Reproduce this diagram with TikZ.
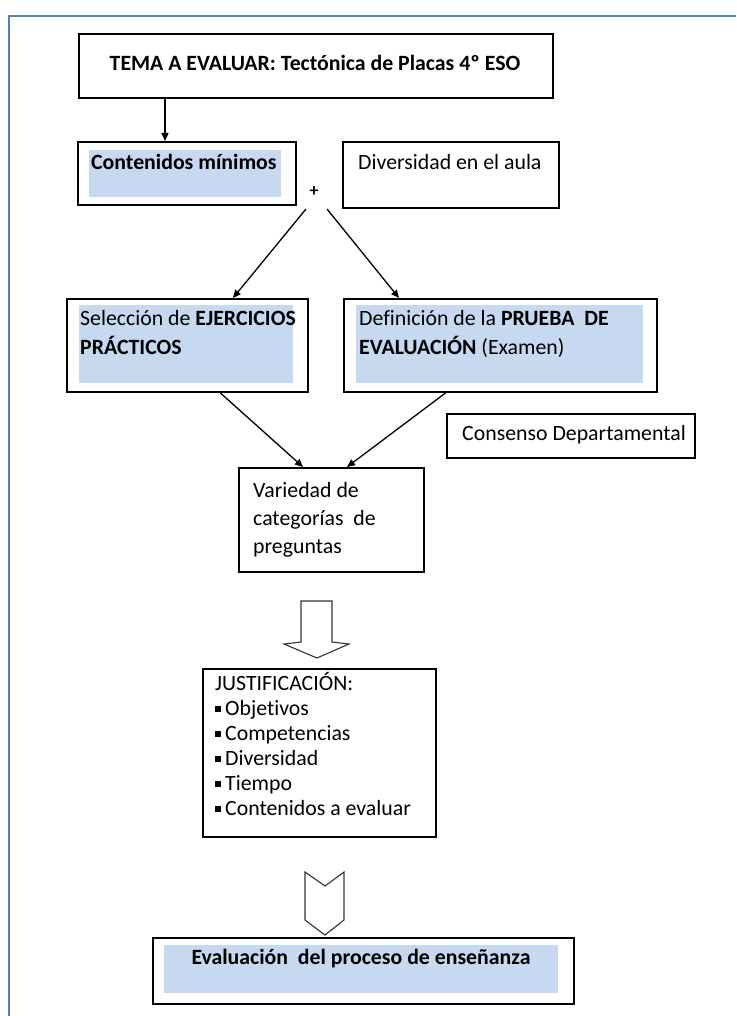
\documentclass[tikz,border=0pt]{standalone}
\usepackage{fontspec}
\setmainfont{Carlito}[Ligatures=NoCommon]
\usetikzlibrary{arrows.meta}
\definecolor{frameblue}{HTML}{4F81BD}
\definecolor{fillblue}{HTML}{C6D9F1}
\newcommand{\fs}{\fontsize{21.8}{25}\selectfont}
\begin{document}
\begin{tikzpicture}[x=1pt,y=-1pt,
  box/.style={draw=black, line width=1.6pt, inner sep=0pt, anchor=north west},
  hl/.style={fill=fillblue, draw=none, inner sep=0pt, anchor=north west},
  txt/.style={anchor=base west, inner sep=0pt, font=\fs},
  btxt/.style={anchor=base west, inner sep=0pt, font=\fs\bfseries},
  arr/.style={line width=1.3pt, -{Triangle[length=8pt,width=7pt]}},
  blockarrow/.style={draw=black!80, line width=1.1pt, fill=white, line join=miter}
]
\useasboundingbox (0,0) rectangle (736,1016);
% outer frame
\draw[frameblue, line width=2pt] (8.5,1016) -- (8.5,16) -- (736,16);

% title
\node[box, minimum width=474pt, minimum height=64pt] (tema) at (78,33) {};
\node[btxt, anchor=base] (tematxt) at (315,71) {TEMA A EVALUAR: Tectónica de Placas 4º ESO};

% contenidos
\node[box, minimum width=218pt, minimum height=63pt] (cont) at (77,141) {};
\node[hl, minimum width=192pt, minimum height=47pt] (conthl) at (89,150) {};
\node[btxt] (conttxt) at (91,170) {Contenidos mínimos};

% diversidad
\node[box, minimum width=216pt, minimum height=66pt] (div) at (342,141) {};
\node[txt] (divtxt) at (358,170) {Diversidad en el aula};

% plus
\node[inner sep=0pt, font=\fontsize{18}{20}\selectfont\bfseries] (plus) at (314,192) {+};
\coordinate (splitL) at (306,209);
\coordinate (splitR) at (327,209);

% seleccion
\node[box, minimum width=241pt, minimum height=93pt] (sel) at (66,298) {};
\node[hl, minimum width=214pt, minimum height=78pt] (selhl) at (79,305) {};
\node[txt] (seltxt1) at (80,325) {Selección de \textbf{EJERCICIOS}};
\node[btxt] (seltxt2) at (80,354) {PRÁCTICOS};

% definicion
\node[box, minimum width=313pt, minimum height=93pt] (def) at (343,298) {};
\node[hl, minimum width=287pt, minimum height=78pt] (defhl) at (356,305) {};
\node[txt] (deftxt1) at (359,325) {Definición de la \textbf{PRUEBA\ \ DE}};
\node[txt] (deftxt2) at (359,354) {\textbf{EVALUACIÓN} (Examen)};

% consenso
\node[box, minimum width=248pt, minimum height=44pt] (cons) at (446,413) {};
\node[txt] (constxt) at (462,440) {Consenso Departamental};

% variedad
\node[box, minimum width=185pt, minimum height=104pt] (var) at (238,467) {};
\node[txt] (vartxt1) at (253,497) {Variedad de};
\node[txt] (vartxt2) at (253,525) {categorías\ \ de};
\node[txt] (vartxt3) at (253,553) {preguntas};

% block arrow
\draw[blockarrow] (301,601) -- (332,601) -- (332,642) -- (349,644) -- (317,658) -- (284,644) -- (301,642) -- cycle;

% justificacion
\node[box, minimum width=233pt, minimum height=168pt] (just) at (202,668) {};
\node[txt] (justtxt) at (215,690) {JUSTIFICACIÓN:};
\foreach \t/\yy [count=\i] in {Objetivos/715, Competencias/740, Diversidad/765, Tiempo/790, Contenidos a evaluar/815}{
  \node[txt] (item\i) at (215,\yy) {\rule[3pt]{6pt}{6pt}\hspace{4pt}\t};
}

% chevron
\draw[blockarrow] (305,872) -- (325,886) -- (344,872) -- (344,920) -- (325,935) -- (305,920) -- cycle;

% evaluacion
\node[box, minimum width=421pt, minimum height=66pt] (eval) at (152,937) {};
\node[hl, minimum width=394pt, minimum height=48pt] (evalhl) at (164,945) {};
\node[btxt, anchor=base] (evaltxt) at (361,964) {Evaluación\ \ del proceso de enseñanza};

% connectors
\draw[arr] ([xshift=87pt]tema.south west) -- ([xshift=87pt]tema.south west |- cont.north);
\draw[arr] (splitL) -- ([xshift=167pt]sel.north west);
\draw[arr] (splitR) -- ([xshift=56pt]def.north west);
\draw[arr] ([xshift=154pt]sel.south west) -- ([xshift=65pt]var.north west);
\draw[arr] ([xshift=103pt]def.south west) -- ([xshift=109pt]var.north west);
\end{tikzpicture}
\end{document}
